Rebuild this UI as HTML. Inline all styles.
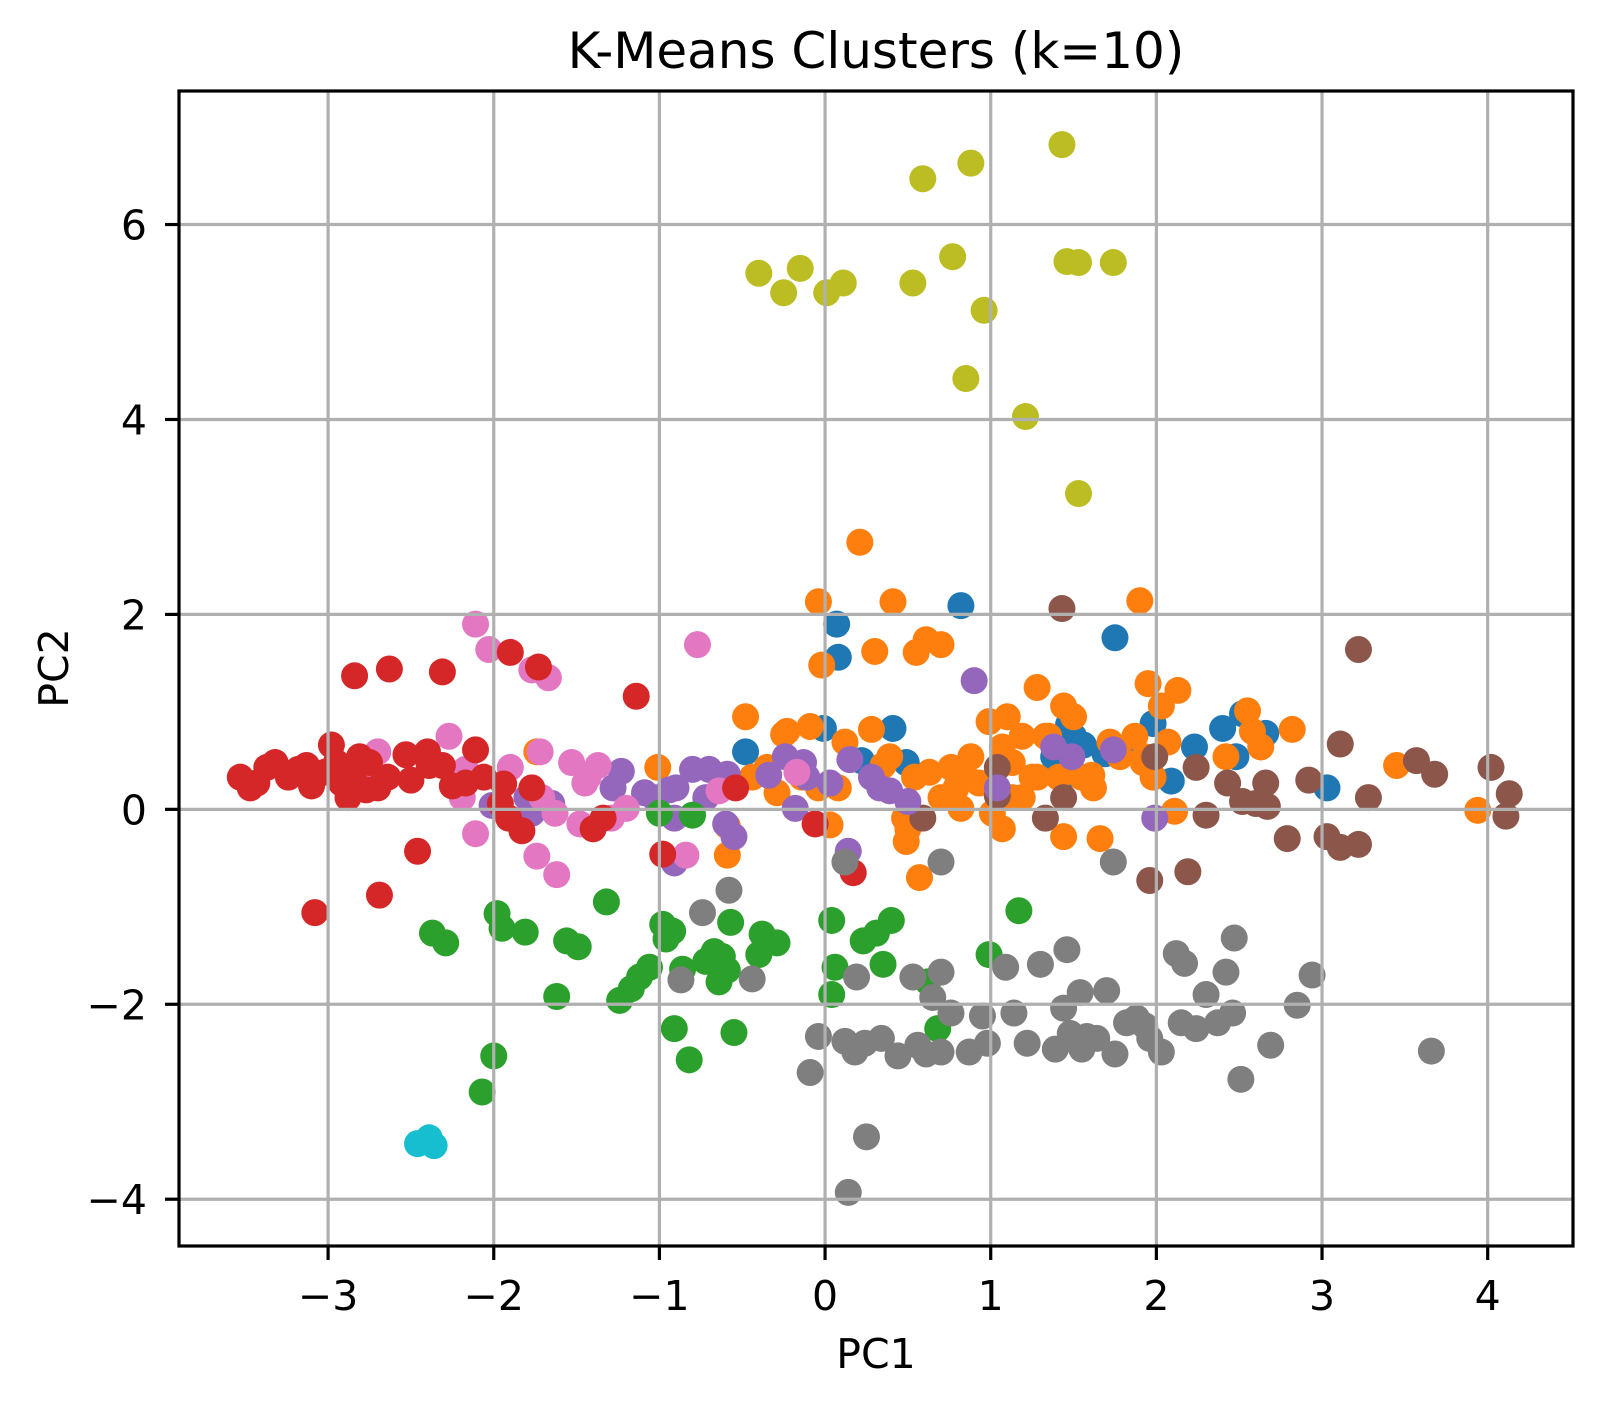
<!DOCTYPE html>
<html><head><meta charset="utf-8"><style>
html,body{margin:0;padding:0;background:#fff;}
svg{display:block;font-family:"DejaVu Sans","Liberation Sans",sans-serif;}
</style></head><body>
<svg id="chart" width="1604" height="1407" viewBox="0 0 1604 1407" xmlns="http://www.w3.org/2000/svg">
<rect x="0" y="0" width="1604" height="1407" fill="#fff"/>
<text x="876" y="68" font-size="50" text-anchor="middle">K-Means Clusters (k=10)</text>
<g id="points"></g>
<g id="grid"></g>
<g id="axes"></g>
<text x="876" y="1368" font-size="41" text-anchor="middle">PC1</text>
<text x="68" y="668" font-size="41" text-anchor="middle" transform="rotate(-90 68 668)">PC2</text>
</svg>
<script>
const xTicks=[-3,-2,-1,0,1,2,3,4];
const yTicks=[-4,-2,0,2,4,6];
const clusterColors=["#1f77b4","#ff7f0e","#2ca02c","#d62728","#9467bd","#8c564b","#e377c2","#7f7f7f","#bcbd22","#17becf"];
const blueX=[0.82,0.07,0.08,1.75,-0.01,-0.48,0.41,0.49,1.38,1.47,1.50,1.56,1.69,1.80,1.98,2.09,2.23,2.40,2.52,2.48,2.66,3.03,1.44,0.22];
const blueY=[2.09,1.90,1.56,1.76,0.83,0.59,0.83,0.48,0.54,0.87,0.75,0.66,0.57,0.57,0.88,0.29,0.64,0.83,0.98,0.54,0.78,0.22,0.33,0.50];
const orangeX=[0.21,-0.04,0.41,1.90,-0.02,0.30,0.55,0.61,0.70,1.95,2.13,-0.48,-0.25,-0.23,-0.09,0.12,0.28,0.35,0.39,0.54,0.63,0.48,0.50,0.49,0.57,-0.59,-0.59,-0.44,-0.29,-0.04,0.03,0.08,0.76,0.79,0.82,0.88,0.93,0.99,1.07,1.13,1.19,1.28,1.35,1.44,1.50,1.55,1.62,1.66,1.44,1.28,1.33,1.19,1.25,1.01,0.85,1.87,1.92,1.98,2.03,2.07,2.11,2.55,2.58,2.63,2.82,2.42,1.72,1.78,1.61,1.41,1.07,-0.35,-0.14,3.45,3.94,-1.74,-1.01,1.10,1.13,0.70,1.93];
const orangeY=[2.74,2.13,2.13,2.14,1.48,1.62,1.61,1.74,1.69,1.29,1.22,0.95,0.77,0.80,0.85,0.69,0.82,0.45,0.54,0.33,0.38,-0.09,-0.20,-0.33,-0.70,-0.47,-0.17,0.33,0.17,0.22,-0.16,0.22,0.43,0.22,0.01,0.54,0.27,0.90,0.64,0.48,0.75,0.33,0.75,1.06,0.95,0.33,0.22,-0.30,-0.28,1.25,0.75,0.12,0.33,-0.04,0.33,0.75,0.48,0.33,1.06,0.69,-0.02,1.01,0.80,0.64,0.82,0.54,0.69,0.54,0.35,0.33,-0.20,0.43,0.33,0.45,-0.01,0.59,0.43,0.95,0.12,0.12,0.54];
const greenX=[-2.37,-2.29,-1.98,-1.95,-1.81,-2.00,-2.07,-1.62,-1.56,-1.49,-1.32,-1.24,-1.17,-1.12,-1.00,-0.98,-0.96,-0.92,-0.91,-0.82,-0.86,-0.72,-0.67,-0.64,-0.62,-0.59,-0.57,-0.55,-0.38,-0.40,-0.29,-0.80,0.04,0.06,0.04,0.23,0.31,0.40,0.35,0.62,0.68,0.99,1.17,-1.06];
const greenY=[-1.27,-1.37,-1.07,-1.22,-1.26,-2.53,-2.90,-1.92,-1.35,-1.41,-0.95,-1.96,-1.84,-1.72,-0.04,-1.18,-1.33,-1.25,-2.25,-2.57,-1.64,-1.56,-1.46,-1.77,-1.51,-1.65,-1.16,-2.29,-1.28,-1.49,-1.37,-0.06,-1.14,-1.62,-1.90,-1.35,-1.27,-1.14,-1.59,-1.77,-2.25,-1.49,-1.04,-1.62];
const redX=[-3.53,-3.47,-3.43,-3.37,-3.32,-3.24,-3.18,-3.13,-3.10,-3.02,-2.98,-2.95,-2.92,-2.88,-2.85,-2.81,-2.77,-2.75,-2.70,-2.53,-2.50,-2.40,-2.39,-2.31,-2.25,-2.11,-2.06,-1.96,-1.91,-1.83,-1.77,-1.40,-1.34,-2.84,-2.63,-2.31,-1.90,-1.73,-1.14,-2.46,-2.69,-3.08,-0.98,0.17,-0.06,-0.54,-1.94,-2.17,-2.64];
const redY=[0.33,0.22,0.27,0.43,0.48,0.33,0.41,0.45,0.24,0.38,0.66,0.48,0.27,0.12,0.33,0.54,0.20,0.48,0.22,0.56,0.30,0.59,0.45,0.45,0.24,0.61,0.33,0.06,-0.09,-0.22,0.22,-0.20,-0.09,1.37,1.44,1.41,1.61,1.46,1.16,-0.43,-0.88,-1.06,-0.46,-0.65,-0.15,0.22,0.26,0.27,0.33];
const purpleX=[-2.01,-1.80,-1.77,-1.65,-1.23,-1.09,-0.94,-0.90,-0.80,-0.70,-0.72,-0.59,-0.60,-0.55,-0.34,-0.24,-0.13,-0.18,-0.11,0.03,0.15,0.28,0.33,0.39,0.50,0.14,-0.91,-0.91,0.90,1.04,1.49,1.74,1.99,1.38,-1.03,-1.28];
const purpleY=[0.04,0.12,-0.04,0.06,0.39,0.17,0.20,0.22,0.41,0.41,0.12,0.36,-0.15,-0.28,0.35,0.54,0.48,0.01,0.33,0.27,0.51,0.33,0.22,0.19,0.08,-0.43,-0.55,-0.09,1.32,0.22,0.54,0.61,-0.09,0.64,0.12,0.22];
const brownX=[1.43,3.22,3.11,3.57,3.68,4.02,4.13,4.11,3.28,2.92,3.03,3.11,3.22,2.79,2.67,2.60,2.52,2.66,2.43,2.24,2.30,2.19,1.96,1.99,1.04,1.04,1.44,1.33,0.59];
const brownY=[2.06,1.64,0.67,0.50,0.36,0.43,0.16,-0.07,0.12,0.30,-0.28,-0.39,-0.36,-0.30,0.03,0.06,0.08,0.27,0.27,0.43,-0.06,-0.64,-0.73,0.54,0.14,0.43,0.12,-0.09,-0.09];
const pinkX=[-2.11,-2.03,-1.77,-1.67,-0.77,-2.70,-2.71,-2.27,-2.17,-2.11,-2.19,-1.72,-1.53,-1.43,-1.37,-1.45,-1.71,-1.63,-1.74,-1.62,-1.48,-1.29,-1.20,-0.84,-0.64,-0.17,-1.90];
const pinkY=[1.90,1.64,1.43,1.35,1.69,0.59,0.27,0.75,0.41,-0.25,0.12,0.59,0.48,0.33,0.45,0.27,0.12,-0.04,-0.48,-0.67,-0.15,-0.09,0.01,-0.47,0.19,0.38,0.43];
const grayX=[0.14,0.25,-0.09,-0.04,0.12,0.18,0.24,0.34,0.44,0.56,0.61,0.70,0.87,0.95,0.98,0.53,0.70,0.65,0.76,1.09,1.14,1.22,1.30,1.39,1.44,1.46,1.48,1.54,1.55,1.64,1.70,1.75,1.82,1.88,1.96,2.03,2.12,2.17,2.15,2.24,2.30,2.37,2.42,2.47,2.46,2.51,2.69,2.85,2.94,3.66,1.74,0.12,0.70,-0.58,-0.74,0.19,-0.44,-0.87,1.58,1.93];
const grayY=[-3.93,-3.36,-2.70,-2.33,-2.38,-2.49,-2.40,-2.35,-2.53,-2.42,-2.51,-2.49,-2.49,-2.12,-2.40,-1.72,-1.67,-1.93,-2.09,-1.62,-2.09,-2.40,-1.59,-2.46,-2.04,-1.44,-2.30,-1.88,-2.46,-2.35,-1.86,-2.51,-2.19,-2.14,-2.35,-2.49,-1.48,-1.58,-2.19,-2.25,-1.90,-2.19,-1.67,-1.32,-2.09,-2.77,-2.42,-2.01,-1.70,-2.48,-0.54,-0.54,-0.54,-0.83,-1.06,-1.72,-1.74,-1.75,-2.33,-2.22];
const oliveX=[1.43,0.59,0.88,-0.40,-0.15,-0.25,0.01,0.11,0.53,0.77,1.46,1.53,1.74,0.96,0.85,1.21,1.53];
const oliveY=[6.82,6.47,6.63,5.50,5.55,5.30,5.30,5.40,5.40,5.67,5.62,5.61,5.61,5.12,4.42,4.03,3.24];
const cyanX=[-2.46,-2.39,-2.36];
const cyanY=[-3.43,-3.37,-3.45];

const NS="http://www.w3.org/2000/svg";
const L=179,R=1573,T=91,B=1246;
const xMin=-3.90,xMax=4.515,yMin=-4.48,yMax=7.37;
function sx(v){return L+(v-xMin)/(xMax-xMin)*(R-L);}
function sy(v){return B-(v-yMin)/(yMax-yMin)*(B-T);}
function mk(tag,attrs,parent){const e=document.createElementNS(NS,tag);for(const k in attrs)e.setAttribute(k,attrs[k]);parent.appendChild(e);return e;}

const series=[[blueX,blueY,0],[orangeX,orangeY,1],[brownX,brownY,5],[purpleX,purpleY,4],[pinkX,pinkY,6],[redX,redY,3],[greenX,greenY,2],[grayX,grayY,7],[oliveX,oliveY,8],[cyanX,cyanY,9]];
const pts=document.getElementById('points');
series.forEach(([xs,ys,c])=>{
  xs.forEach((x,i)=>{
    const el=mk('circle',{cx:sx(x),cy:sy(ys[i]),r:13.5,fill:clusterColors[c]},pts);
    
    
  });
});
const grid=document.getElementById('grid');
const axes=document.getElementById('axes');
xTicks.forEach(t=>{
  const x=sx(t);
  const g=mk('line',{x1:x,x2:x,y1:T,y2:B,stroke:'#b0b0b0','stroke-width':3.2},grid);
  
  
  mk('line',{x1:x,x2:x,y1:B,y2:B+14,stroke:'#000','stroke-width':3.2},axes);
  const tx=mk('text',{x:x,y:1310,'font-size':41,'text-anchor':'middle'},axes);
  tx.textContent=(t<0?'\u2212'+(-t):String(t));
  
  
});
yTicks.forEach(t=>{
  const y=sy(t);
  const g=mk('line',{x1:L,x2:R,y1:y,y2:y,stroke:'#b0b0b0','stroke-width':3.2},grid);
  
  
  mk('line',{x1:L-14,x2:L,y1:y,y2:y,stroke:'#000','stroke-width':3.2},axes);
  const tx=mk('text',{x:147,y:y+15,'font-size':41,'text-anchor':'end'},axes);
  tx.textContent=(t<0?'\u2212'+(-t):String(t));
  
  
});
const fr=mk('rect',{x:L,y:T,width:R-L,height:B-T,fill:'none',stroke:'#000','stroke-width':3.2},axes);


</script>
</body></html>
